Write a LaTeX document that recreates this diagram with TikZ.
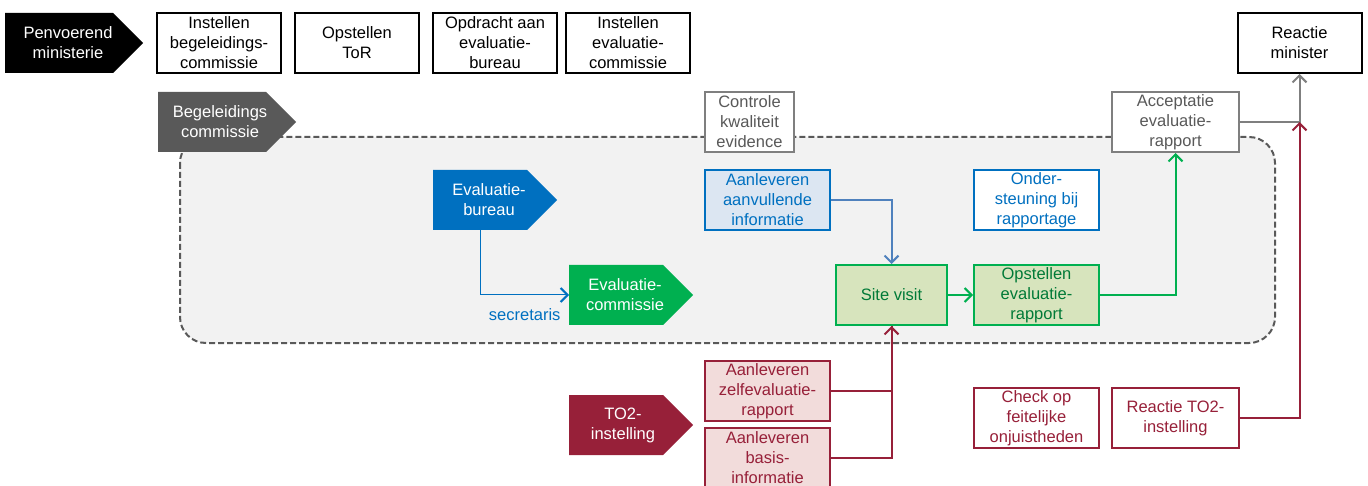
\documentclass[tikz,border=0pt]{standalone}
\usepackage{fontspec}
\setmainfont{Liberation Sans}
\usetikzlibrary{positioning,shapes.symbols,arrows.meta}

\definecolor{donkergrijs}{HTML}{595959}
\definecolor{middengrijs}{HTML}{7F7F7F}
\definecolor{achtergrond}{HTML}{F2F2F2}
\definecolor{blauw}{HTML}{0070C0}
\definecolor{lichtblauw}{HTML}{DCE6F2}
\definecolor{staalblauw}{HTML}{4F81BD}
\definecolor{groen}{HTML}{00B050}
\definecolor{lichtgroen}{HTML}{D7E4BD}
\definecolor{donkergroen}{HTML}{007A37}
\definecolor{rood}{HTML}{972039}
\definecolor{lichtrood}{HTML}{F2DCDB}

\tikzset{
    tekst/.style={font=\fontsize{16.5}{20}\selectfont, align=center},
    stap/.style={tekst, draw, line width=2pt, inner sep=0pt, minimum height=60pt, minimum width=124pt},
    actor/.style={signal, signal to=east, signal pointer angle=90, inner sep=0pt, minimum height=60pt, minimum width=124pt, anchor=west},
    actortekst/.style={tekst, text=white, anchor=center, xshift=#1},
    pijl/.style={line width=2pt, -{Straight Barb[length=7pt, width=14pt, line width=2pt]}},
}

\begin{document}
\begin{tikzpicture}[x=1pt, y=-1pt]

            \useasboundingbox (0,0) rectangle (1368,486);

            % Background

            \draw[donkergrijs, fill=achtergrond, line width=2pt, dash pattern=on 6pt off 3pt, rounded corners=26pt] (180,137) rectangle (1275,343);

            % Nodes

            \node[actor, fill=black, minimum width=138pt, label={[actortekst=63pt]west:Penvoerend\\ministerie}] (penvoerend) at (5,43) {};
            \node[stap] (begeleiding) at (219,43) {Instellen\\begeleidings-\\commissie};
            \node[stap, right=12pt of begeleiding] (tor) {Opstellen\\ToR};
            \node[stap, right=12pt of tor] (opdracht) {Opdracht aan\\evaluatie-\\bureau};
            \node[stap, right=7pt of opdracht] (instellen) {Instellen\\evaluatie-\\commissie};
            \node[stap] (minister) at (1299.5,43) {Reactie\\minister};

            \node[actor, fill=donkergrijs, minimum width=138pt, label={[actortekst=62pt]west:Begeleidings\\commissie}] (bcommissie) at (158,122) {};
            \node[stap, draw=middengrijs, fill=white, text=donkergrijs, minimum width=89pt] (controle) at (749.5,122) {Controle\\kwaliteit\\evidence};
            \node[stap, draw=middengrijs, fill=white, text=donkergrijs, minimum width=127pt] (acceptatie) at (1175.5,122) {Acceptatie\\evaluatie-\\rapport};

            \node[actor, fill=blauw, label={[actortekst=56pt]west:Evaluatie-\\bureau}] (bureau) at (433,200) {};
            \node[stap, draw=blauw, fill=lichtblauw, text=blauw, minimum width=125pt] (aanvullend) at (767.5,200) {Aanleveren\\aanvullende\\informatie};
            \node[stap, draw=blauw, fill=white, text=blauw, minimum width=125pt] (ondersteuning) at (1036.5,200) {Onder-\\steuning bij\\rapportage};

            \node[actor, fill=groen, label={[actortekst=56pt]west:Evaluatie-\\commissie}] (ecommissie) at (569,295) {};
            \node[stap, draw=groen, fill=lichtgroen, text=donkergroen, minimum width=111pt] (sitevisit) at (891.5,295) {Site visit};
            \node[stap, draw=groen, fill=lichtgroen, text=donkergroen, minimum width=125pt] (rapport) at (1036.5,295) {Opstellen\\evaluatie-\\rapport};

            \node[actor, fill=rood, label={[actortekst=54pt]west:TO2-\\instelling}] (instelling) at (569,425) {};
            \node[stap, draw=rood, fill=lichtrood, text=rood, minimum width=125pt] (zelfevaluatie) at (767.5,391) {Aanleveren\\zelfevaluatie-\\rapport};
            \node[stap, draw=rood, fill=lichtrood, text=rood, minimum width=125pt] (basis) at (767.5,458) {Aanleveren\\basis-\\informatie};
            \node[stap, draw=rood, fill=white, text=rood, minimum width=125pt] (check) at (1036.5,418) {Check op\\feitelijke\\onjuistheden};
            \node[stap, draw=rood, fill=white, text=rood, minimum width=127pt] (reactie) at (1175.5,418) {Reactie TO2-\\instelling};

            \coordinate (knik) at (acceptatie.east -| minister.south);

            % Edges

            \draw[pijl, blauw, line width=1pt] (bureau.south) |- (ecommissie.west) node[at end, below left=13pt and 8pt, tekst, text=blauw, inner sep=0pt] {secretaris};
            \draw[pijl, staalblauw] (aanvullend.east) -| (sitevisit.north);
            \draw[pijl, groen] (sitevisit) -- (rapport);
            \draw[pijl, groen] (rapport.east) -| (acceptatie.south);
            \draw[pijl, middengrijs] (acceptatie.east) -| (minister.south);
            \draw[pijl, rood] (reactie.east) -| (knik);
            \draw[line width=2pt, rood] (zelfevaluatie.east) -| (sitevisit.south);
            \draw[pijl, rood] (basis.east) -| (sitevisit.south);

\end{tikzpicture}
\end{document}
